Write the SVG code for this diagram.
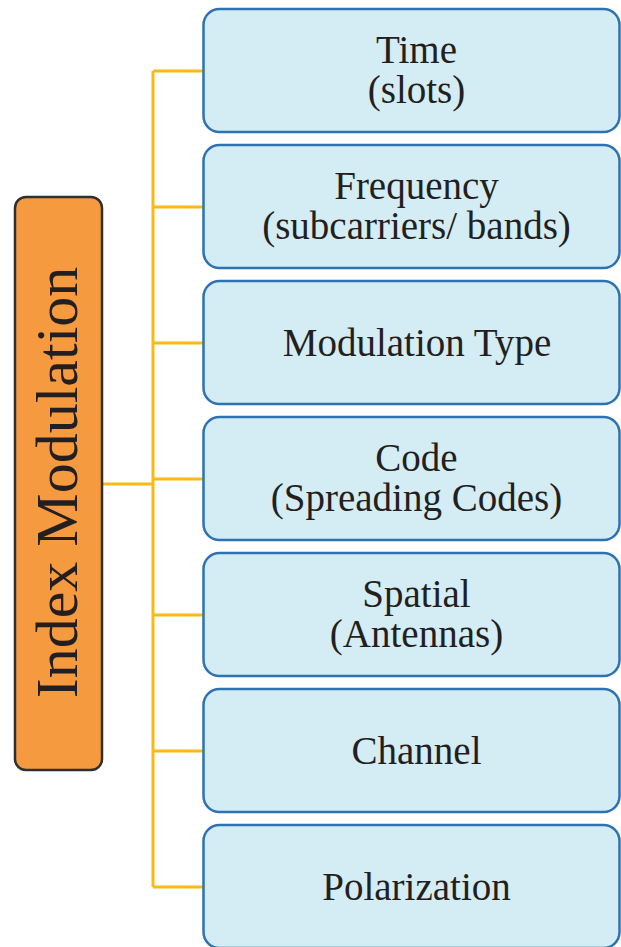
<svg xmlns="http://www.w3.org/2000/svg" width="621" height="947" viewBox="0 0 621 947">
<style>
.box{fill:#D4ECF4;stroke:#2E72B2;stroke-width:2.5}
.root{fill:#F69A40;stroke:#2F2F2F;stroke-width:2.5}
.lbl{font-family:'Liberation Serif','Times New Roman',serif;font-size:39px;fill:#231F20;text-anchor:middle}
.rootlbl{font-family:'Liberation Serif','Times New Roman',serif;font-size:60px;fill:#231F20;text-anchor:middle}
.conn{fill:none;stroke:#FBB913;stroke-width:3}
</style>
<rect width="621" height="947" fill="#FFFFFF"/>
<g id="connectors">
<path class="conn" d="M153,71 V887 M102,484 H153 M153,71 H203 M153,207 H203 M153,343 H203 M153,479 H203 M153,615 H203 M153,751 H203 M153,887 H203"/>
</g>
<g id="index-modulation">
<rect class="root" x="15" y="197" width="87" height="573" rx="11"/>
<text class="rootlbl" x="77" y="482.5" transform="rotate(-90 77 482.5)">Index Modulation</text>
</g>
<g id="time">
<rect class="box" x="203.5" y="9" width="416" height="123" rx="16"/>
<text class="lbl" x="416.5" y="62.5">Time</text>
<text class="lbl" x="416.5" y="102.5">(slots)</text>
</g>
<g id="frequency">
<rect class="box" x="203.5" y="145" width="416" height="123" rx="16"/>
<text class="lbl" x="416.5" y="198.5">Frequency</text>
<text class="lbl" x="416.5" y="238.5">(subcarriers/ bands)</text>
</g>
<g id="modulation-type">
<rect class="box" x="203.5" y="281" width="416" height="123" rx="16"/>
<text class="lbl" x="417" y="355.5">Modulation Type</text>
</g>
<g id="code">
<rect class="box" x="203.5" y="417" width="416" height="123" rx="16"/>
<text class="lbl" x="416.5" y="470.5">Code</text>
<text class="lbl" x="416.5" y="510.5">(Spreading Codes)</text>
</g>
<g id="spatial">
<rect class="box" x="203.5" y="553" width="416" height="123" rx="16"/>
<text class="lbl" x="416.5" y="606.5">Spatial</text>
<text class="lbl" x="416.5" y="646.5">(Antennas)</text>
</g>
<g id="channel">
<rect class="box" x="203.5" y="689" width="416" height="123" rx="16"/>
<text class="lbl" x="416.5" y="763.5">Channel</text>
</g>
<g id="polarization">
<rect class="box" x="203.5" y="825" width="416" height="123" rx="16"/>
<text class="lbl" x="416.5" y="899.5">Polarization</text>
</g>
</svg>
